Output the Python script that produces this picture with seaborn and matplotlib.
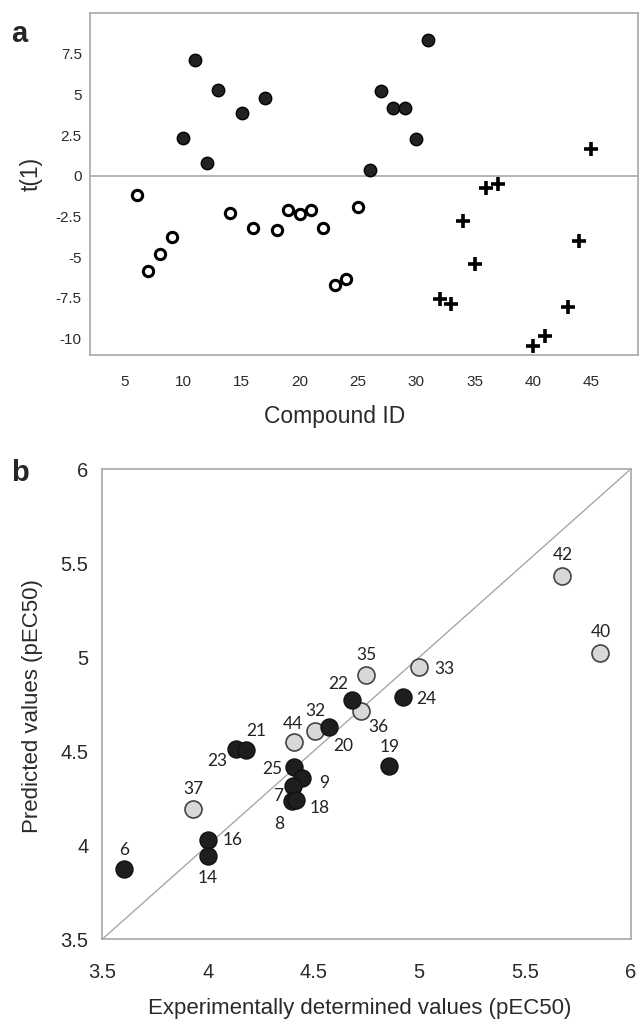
import pandas as pd
import seaborn as sns
import matplotlib.pyplot as plt

# panel a: score plot t(1) vs compound id, three groups
ids_filled = [10, 11, 12, 13, 15, 17, 26, 27, 28, 29, 30, 31]
t1_filled = [2.35, 7.1, 0.82, 5.28, 3.85, 4.77, 0.37, 5.21, 4.19, 4.19, 2.29, 8.34]

ids_open = [6, 7, 8, 9, 14, 16, 18, 19, 20, 21, 22, 23, 24, 25]
t1_open = [-1.18, -5.87, -4.8, -3.74, -2.29, -3.21, -3.31, -2.1, -2.35, -2.1, -3.19, -6.69, -6.36, -1.94]

ids_cross = [32, 33, 34, 35, 36, 37, 40, 41, 43, 44, 45]
t1_cross = [-7.6, -7.87, -2.76, -5.42, -0.72, -0.51, -10.47, -9.88, -8.08, -3.99, 1.64]

# panel b: predicted vs experimental pEC50
train_ids = ["6", "16", "14", "23", "21", "20", "25", "9", "7", "8", "18", "19", "22", "24"]
train_exp = [3.604, 4.002, 4.0, 4.133, 4.179, 4.574, 4.407, 4.447, 4.401, 4.40, 4.415, 4.858, 4.68, 4.924]
train_pred = [3.876, 4.027, 3.943, 4.509, 4.505, 4.629, 4.416, 4.355, 4.314, 4.235, 4.24, 4.42, 4.771, 4.786]

test_ids = ["37", "44", "32", "36", "35", "33", "42", "40"]
test_exp = [3.93, 4.407, 4.508, 4.722, 4.748, 5.0, 5.677, 5.857]
test_pred = [4.19, 4.55, 4.606, 4.714, 4.903, 4.948, 5.433, 5.02]

# label offsets in pixels (dx, dy upward)
label_off = {
    "6": (0, 19), "16": (24, 0), "14": (0, -22), "37": (0, 20), "23": (-19, -12),
    "21": (10, 19), "44": (-1, 18), "32": (0, 20), "20": (14, -19), "25": (-22, -2),
    "9": (22, -5), "7": (-15, -10), "8": (-13, -23), "18": (24, -8), "19": (0, 19),
    "22": (-13, 16), "36": (18, -16), "35": (0, 20), "33": (25, -2), "24": (23, -2),
    "42": (0, 21), "40": (0, 21),
}

sns.set_style("white")
plt.rcParams['font.family'] = ['Liberation Sans', 'DejaVu Sans']

fig = plt.figure(figsize=(6.39, 10.22), dpi=100)
ax1 = fig.add_axes([0.141, 0.653, 0.857, 0.334])
ax2 = fig.add_axes([0.160, 0.081, 0.827, 0.460])

grey = "#a8a8a8"
txt = "#2a2a2a"

# ---- panel a
df_f = pd.DataFrame({"id": ids_filled, "t": t1_filled})
df_o = pd.DataFrame({"id": ids_open, "t": t1_open})
df_c = pd.DataFrame({"id": ids_cross, "t": t1_cross})

ax1.axhline(0, color=grey, lw=1.2, zorder=1)
sns.scatterplot(data=df_f, x="id", y="t", ax=ax1, s=80, color="#222222",
                edgecolor="black", linewidth=1, zorder=3)
sns.scatterplot(data=df_o, x="id", y="t", ax=ax1, s=55, color="white",
                edgecolor="black", linewidth=2.2, zorder=3)
sns.scatterplot(data=df_c, x="id", y="t", ax=ax1, s=90, marker="+",
                color="black", linewidth=2.6, zorder=3)

ax1.set_xlim(2, 49)
ax1.set_ylim(-11, 10)
ax1.set_xticks([5, 10, 15, 20, 25, 30, 35, 40, 45])
ax1.set_yticks([-10, -7.5, -5, -2.5, 0, 2.5, 5, 7.5])
ax1.set_yticklabels(["-10", "-7.5", "-5", "-2.5", "0", "2.5", "5", "7.5"])
ax1.tick_params(axis="both", length=0, labelsize=11, colors=txt)
ax1.tick_params(axis="x", pad=15)
ax1.tick_params(axis="y", pad=6)
ax1.set_xlabel("Compound ID", fontsize=16.5, color=txt)
ax1.xaxis.label.set_va("center")
ax1.xaxis.set_label_coords(0.447, -0.182)
ax1.set_ylabel("t(1)", fontsize=16.5, color=txt)
ax1.yaxis.label.set_va("center")
ax1.yaxis.set_label_coords(-0.108, 0.53)
for sp in ax1.spines.values():
    sp.set_color(grey)
    sp.set_linewidth(1.2)

# ---- panel b
df_tr = pd.DataFrame({"exp": train_exp, "pred": train_pred, "id": train_ids})
df_te = pd.DataFrame({"exp": test_exp, "pred": test_pred, "id": test_ids})

ax2.plot([3.5, 6], [3.5, 6], color=grey, lw=1, zorder=1)
sns.scatterplot(data=df_te, x="exp", y="pred", ax=ax2, s=150, color="#d8d8d8",
                edgecolor="#444444", linewidth=1.2, zorder=3)
sns.scatterplot(data=df_tr, x="exp", y="pred", ax=ax2, s=150, color="#1e1e1e",
                edgecolor="#111111", linewidth=1, zorder=4)

for d in (df_tr, df_te):
    for _, r in d.iterrows():
        dx, dy = label_off[r["id"]]
        ax2.annotate(r["id"], (r["exp"], r["pred"]), xytext=(dx, dy),
                     textcoords="offset pixels", ha="center", va="center",
                     fontsize=12.5, family=["Lato", "DejaVu Sans"], color="#222222",
                     zorder=5)

ax2.set_xlim(3.5, 6)
ax2.set_ylim(3.5, 6)
ticks = [3.5, 4, 4.5, 5, 5.5, 6]
ax2.set_xticks(ticks)
ax2.set_yticks(ticks)
ax2.set_xticklabels(["3.5", "4", "4.5", "5", "5.5", "6"])
ax2.set_yticklabels(["3.5", "4", "4.5", "5", "5.5", "6"])
ax2.tick_params(axis="both", length=0, labelsize=14.5, colors=txt)
ax2.tick_params(axis="x", pad=17)
ax2.tick_params(axis="y", pad=10)
ax2.set_xlabel("Experimentally determined values (pEC50)", fontsize=16, color=txt)
ax2.xaxis.label.set_va("center")
ax2.xaxis.set_label_coords(0.488, -0.147)
ax2.set_ylabel("Predicted values (pEC50)", fontsize=16, color=txt)
ax2.yaxis.label.set_va("center")
ax2.yaxis.set_label_coords(-0.132, 0.496)
for sp in ax2.spines.values():
    sp.set_color(grey)
    sp.set_linewidth(1.2)

fig.text(0.018, 0.967, "a", fontsize=21, fontweight="bold", va="center")
fig.text(0.018, 0.537, "b", fontsize=21, fontweight="bold", va="center")

plt.savefig("out.png", dpi=100)
